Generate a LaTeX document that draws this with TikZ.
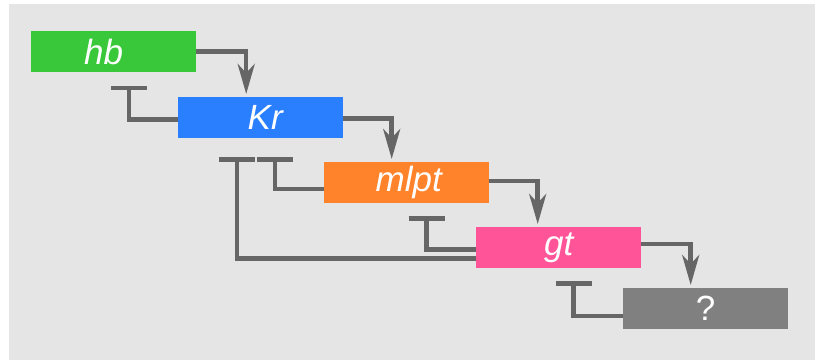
\documentclass[tikz,border=0pt]{standalone}
\usepackage{fontspec}
\setmainfont{Liberation Sans}
\usetikzlibrary{arrows.meta}
\definecolor{bgc}{HTML}{E5E5E5}
\definecolor{linec}{HTML}{666666}
\definecolor{cgreen}{HTML}{38C839}
\definecolor{cblue}{HTML}{2A7FFF}
\definecolor{corange}{HTML}{FF832A}
\definecolor{cpink}{HTML}{FF5598}
\definecolor{cgray}{HTML}{808080}
\tikzset{
  genebox/.style={draw=none, minimum width=165pt, minimum height=41pt, inner sep=0pt,
    anchor=north west, text=white, font=\fontsize{35}{40}\selectfont\itshape},
  act/.style={draw=linec, line width=4.5pt, -{Stealth[length=30pt, width=17pt, inset=9pt]}, shorten >=3pt},
  inh/.style={draw=linec, line width=4.5pt, -{Bar[width=36pt]}}
}
\begin{document}
\begin{tikzpicture}[x=1pt,y=-1pt]
\useasboundingbox (0,0) rectangle (815,360);
\fill[bgc] (9,4) rectangle (815,360);

\node[genebox, fill=cgreen] (hb) at (31,31) {};
\node[text=white, font=\fontsize{35}{40}\selectfont\itshape] (hbt) at ([xshift=-10pt]hb.center) {hb};
\node[genebox, fill=cblue] (Kr) at (178,97) {\hspace{9pt}Kr};
\node[genebox, fill=corange] (mlpt) at (324,162) {\hspace{4pt}mlpt};
\node[genebox, fill=cpink] (gt) at (476,227) {gt};
\node[genebox, fill=cgray, font=\fontsize{35}{40}\selectfont] (q) at (623,288) {?};

% activations
\draw[act] (hb.east) -| ([xshift=-14.5pt]Kr.north);
\draw[act] ([yshift=-1pt]Kr.east) -| ([xshift=-15pt]mlpt.north);
\draw[act] ([yshift=1.5pt]mlpt.east) -| ([xshift=-21pt]gt.north);
\draw[act] ([yshift=3.5pt]gt.east) -| ([xshift=-15pt]q.north);

% inhibitions
\draw[inh] ([yshift=-2pt]Kr.west) -| ([xshift=15.5pt, yshift=-13.5pt]hb.south);
\draw[inh] ([yshift=-6.5pt]mlpt.west) -| ([xshift=14.5pt, yshift=-19pt]Kr.south);
\draw[inh] ([yshift=-11pt]gt.west) -| ([xshift=-23.5pt, yshift=-19pt]Kr.south);
\draw[inh] ([yshift=-2pt]gt.west) -| ([xshift=20pt, yshift=-13pt]mlpt.south);
\draw[inh] ([yshift=-7.5pt]q.west) -| ([xshift=15pt, yshift=-13pt]gt.south);
\end{tikzpicture}
\end{document}
